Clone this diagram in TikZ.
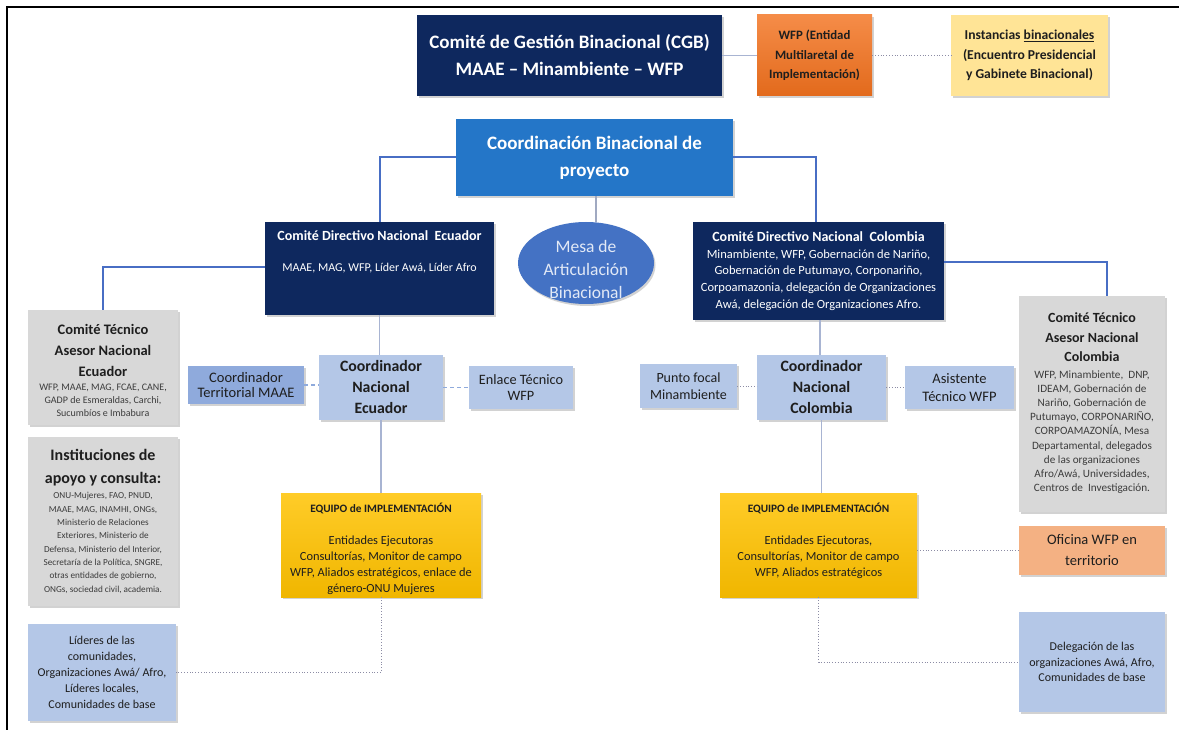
\documentclass[tikz,border=0pt]{standalone}
\usepackage{fontspec}
\setmainfont{Carlito}
\usetikzlibrary{shapes.geometric,shadows}
\newcommand\fsz[2]{\fontsize{#1}{#2}\selectfont}
\newcommand\tb[2]{\begin{minipage}{#1}\centering #2\endgraf\end{minipage}}
\newcommand\topbox[3]{\begin{minipage}[c][#2][t]{#1}\centering #3\endgraf\end{minipage}}
\definecolor{navy}{RGB}{14,40,94}
\definecolor{cblue}{RGB}{36,118,200}
\definecolor{eblue}{RGB}{68,114,196}
\definecolor{etext}{RGB}{226,233,246}
\definecolor{lblue}{RGB}{180,199,231}
\definecolor{mblue}{RGB}{143,170,220}
\definecolor{lgray}{RGB}{216,216,216}
\definecolor{gold1}{RGB}{255,204,40}
\definecolor{gold2}{RGB}{240,182,0}
\definecolor{or1}{RGB}{245,140,72}
\definecolor{or2}{RGB}{226,106,28}
\definecolor{pyel}{RGB}{255,228,150}
\definecolor{salmon}{RGB}{244,177,131}
\definecolor{dtext}{RGB}{30,30,30}
\definecolor{stext}{RGB}{60,60,60}
\definecolor{conn1}{RGB}{72,110,196}
\definecolor{conn2}{RGB}{168,180,210}
\definecolor{conndot}{RGB}{140,140,165}
\tikzset{
  box/.style={inner sep=0pt, align=center,
    drop shadow={shadow xshift=1.5pt, shadow yshift=-2pt, opacity=0.35}},
  navybox/.style={box, fill=navy, text=white},
  lbbox/.style={box, fill=lblue, text=dtext},
  graybox/.style={box, fill=lgray, text=dtext},
  goldbox/.style={box, top color=gold1, bottom color=gold2, text=dtext},
  strong/.style={draw=conn1, line width=2pt},
  soft/.style={draw=conn2, line width=1.2pt},
  dashconn/.style={draw=mblue, line width=1.3pt, dash pattern=on 4pt off 3pt},
  dotconn/.style={draw=conndot, line width=0.8pt, dotted},
}
\begin{document}
\begin{tikzpicture}[x=1pt,y=-1pt]
\useasboundingbox (0,0) rectangle (1179,730);
\fill[white] (0,0) rectangle (1179,730);
\draw[line width=2.5pt] (1179,7) -- (7,7) -- (7,730);

% top row
\node[navybox, minimum width=305pt, minimum height=81pt] (cgb) at (569.5,55.5)
  {\tb{300pt}{\fsz{19}{27}\bfseries Comité de Gestión Binacional (CGB)\\MAAE – Minambiente – WFP}};
\node[box, top color=or1, bottom color=or2, text=dtext, minimum width=115pt, minimum height=81pt] (wfp) at (814.5,55.5)
  {\tb{112pt}{\fsz{12.8}{19.5}\bfseries WFP (Entidad\\Multilaretal de\\Implementación)}};
\node[box, fill=pyel, text=dtext, minimum width=157pt, minimum height=81pt] (inst) at (1029.5,55.5)
  {\tb{155pt}{\fsz{13.6}{19.5}\bfseries Instancias \underline{binacionales}\\(Encuentro Presidencial\\y Gabinete Binacional)}};

% coordination
\node[box, fill=cblue, text=white, minimum width=277pt, minimum height=77pt] (cbin) at (594.5,157.5)
  {\tb{270pt}{\fsz{19}{27}\bfseries Coordinación Binacional de\\proyecto}};

\node[navybox, minimum width=229pt, minimum height=93pt] (cdne) at (379.5,268.5)
  {\topbox{226pt}{75pt}{{\fsz{14}{17}\bfseries Comité Directivo Nacional\ \ Ecuador\endgraf}\vspace{16pt}\fsz{12}{14.6}MAAE, MAG, WFP, Líder Awá, Líder Afro}};

\node[ellipse, fill=eblue, text=etext, inner sep=0pt, minimum width=136pt, minimum height=82pt,
  drop shadow={shadow xshift=1.5pt, shadow yshift=-2pt, opacity=0.35}] (mesa) at (586,263)
  {\raisebox{-9pt}[0pt][0pt]{\makebox[0pt]{\tb{120pt}{\fsz{17.5}{23}Mesa de\\Articulación\\Binacional}}}};

\node[navybox, minimum width=251pt, minimum height=98pt] (cdnc) at (818.5,271)
  {\tb{249pt}{{\fsz{14}{16.7}\bfseries Comité Directivo Nacional\ \ Colombia\endgraf}\fsz{12.5}{16.7}Minambiente, WFP, Gobernación de Nariño,\\Gobernación de Putumayo, Corponariño,\\Corpoamazonia, delegación de Organizaciones\\Awá, delegación de Organizaciones Afro.}};

% left column
\node[graybox, minimum width=150pt, minimum height=115pt] (cte) at (103,367.5)
  {\raisebox{-5pt}[0pt][0pt]{\tb{148pt}{{\fsz{14.5}{21}\bfseries Comité Técnico\\Asesor Nacional\\Ecuador\endgraf}\vspace{1pt}\fsz{10}{13}\color{stext}WFP, MAAE, MAG, FCAE, CANE,\\GADP de Esmeraldas, Carchi,\\Sucumbíos e Imbabura}}};
\node[graybox, minimum width=150pt, minimum height=169pt] (inst2) at (103,521.5)
  {\tb{149pt}{{\fsz{16}{23}\bfseries Instituciones de\\apoyo y consulta:\endgraf}\vspace{1.7pt}\fsz{9.2}{13.3}\color{stext}ONU-Mujeres, FAO, PNUD,\\MAAE, MAG, INAMHI, ONGs,\\Ministerio de Relaciones\\Exteriores, Ministerio de\\Defensa, Ministerio del Interior,\\Secretaría de la Política, SNGRE,\\otras entidades de gobierno,\\ONGs, sociedad civil, academia.}};
\node[lbbox, minimum width=148pt, minimum height=97pt] (lid) at (102,672.5)
  {\tb{146pt}{\fsz{12}{16}Líderes de las\\comunidades,\\Organizaciones Awá/ Afro,\\Líderes locales,\\Comunidades de base}};

% Ecuador coordinators
\node[box, fill=mblue, text=dtext, minimum width=116pt, minimum height=38pt] (ctm) at (246,385)
  {\tb{114pt}{\fsz{14.5}{15.5}Coordinador\\Territorial MAAE}};
\node[lbbox, minimum width=124pt, minimum height=65pt] (cne) at (381,387.5)
  {\tb{122pt}{\fsz{15.8}{21}\bfseries Coordinador\\Nacional\\Ecuador}};
\node[lbbox, minimum width=104pt, minimum height=43pt] (enl) at (521,387.5)
  {\tb{102pt}{\fsz{14.3}{16}Enlace Técnico\\WFP}};

\node[goldbox, minimum width=200pt, minimum height=104pt] (eqe) at (381,545)
  {\topbox{198pt}{84pt}{{\fsz{11.3}{14}\bfseries EQUIPO de IMPLEMENTACIÓN\endgraf}\vspace{16pt}\fsz{12.4}{16}Entidades Ejecutoras\\Consultorías, Monitor de campo\\WFP, Aliados estratégicos, enlace de\\género-ONU Mujeres}};

% Colombia coordinators
\node[lbbox, minimum width=97pt, minimum height=44pt] (pf) at (688.5,386)
  {\tb{95pt}{\fsz{14}{17}Punto focal\\Minambiente}};
\node[lbbox, minimum width=129pt, minimum height=65pt] (cnc) at (821.5,387.5)
  {\tb{127pt}{\fsz{15.8}{21}\bfseries Coordinador\\Nacional\\Colombia}};
\node[lbbox, minimum width=109pt, minimum height=43pt] (asis) at (959.5,387.5)
  {\tb{107pt}{\fsz{14.5}{18}Asistente\\Técnico WFP}};

\node[goldbox, minimum width=197pt, minimum height=104pt] (eqc) at (818.5,545)
  {\topbox{195pt}{84pt}{{\fsz{11.3}{14}\bfseries EQUIPO de IMPLEMENTACIÓN\endgraf}\vspace{16pt}\fsz{12.4}{16}Entidades Ejecutoras,\\Consultorías, Monitor de campo\\WFP, Aliados estratégicos}};

% right column
\node[graybox, minimum width=146pt, minimum height=216pt] (ctc) at (1092,404)
  {\topbox{145pt}{182pt}{{\fsz{14}{19.5}\bfseries Comité Técnico\\Asesor Nacional\\Colombia\endgraf}\vspace{2pt}\fsz{11.2}{14.2}\color{stext}WFP, Minambiente,\ \ DNP,\\IDEAM, Gobernación de\\Nariño, Gobernación de\\Putumayo, CORPONARIÑO,\\CORPOAMAZONÍA, Mesa\\Departamental, delegados\\de las organizaciones\\Afro/Awá, Universidades,\\Centros de\ \ Investigación.}};
\node[box, fill=salmon, text=dtext, minimum width=146pt, minimum height=49pt] (ofi) at (1092,550.5)
  {\tb{144pt}{\fsz{14.5}{21}Oficina WFP en\\territorio}};
\node[lbbox, minimum width=146pt, minimum height=100pt] (del) at (1092,662)
  {\tb{144pt}{\fsz{12}{15.5}Delegación de las\\organizaciones Awá, Afro,\\Comunidades de base}};

% connectors
\draw[soft] (cgb.east) -- (wfp.west);
\draw[dotconn] (wfp.east) -- (inst.west);
\draw[strong] (cbin.west) -| (cdne.north);
\draw[strong] (cbin.east) -| ([xshift=-3pt]cdnc.north);
\draw[soft, draw=conn2!80!gray] ([xshift=1.5pt]cbin.south) -- ([xshift=1.5pt]cbin.south |- mesa.north);
\draw[strong] ([yshift=1.5pt]cdne.west) -| (cte.north);
\draw[strong] ([yshift=9pt]cdnc.east) -| ([xshift=15pt]ctc.north);
\draw[soft] (cdne.south) -- (cdne.south |- cne.north);
\draw[soft] (cne.south) -- (cne.south |- eqe.north);
\draw[dashconn] (ctm.east) -- (ctm.east -| cne.west);
\draw[dashconn] (cne.east) -- (cne.east -| enl.west);
\draw[soft] ([xshift=1.5pt]cdnc.south) -- ([xshift=1.5pt]cdnc.south |- cnc.north);
\draw[soft] (cnc.south) -- (cnc.south |- eqc.north);
\draw[dotconn] (pf.east) -- (pf.east -| cnc.west);
\draw[dotconn] (cnc.east) -- (cnc.east -| asis.west);
\draw[dotconn] (eqe.south) |- (lid.east);
\draw[dotconn] (eqc.east |- ofi.west) -- (ofi.west);
\draw[dotconn] (eqc.south) |- (del.west);
\end{tikzpicture}
\end{document}
